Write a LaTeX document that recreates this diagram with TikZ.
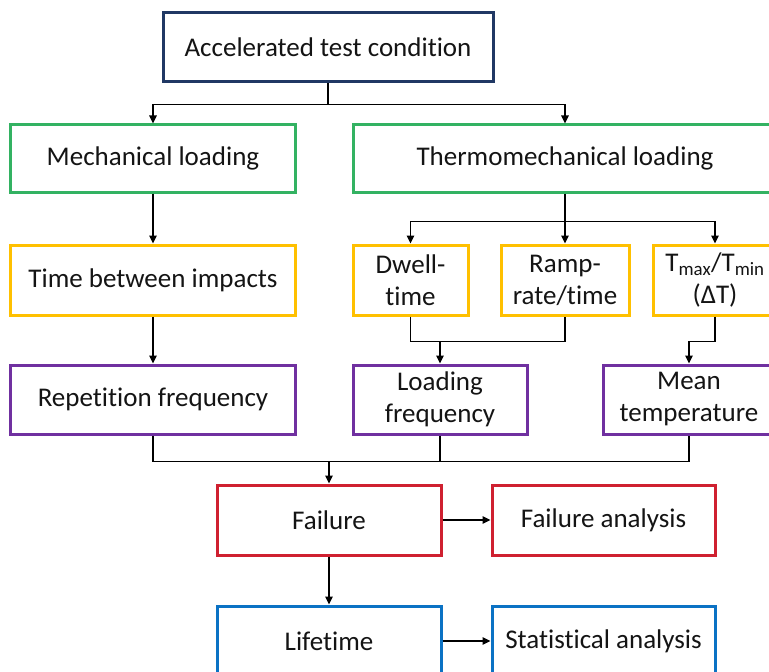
\documentclass[tikz,border=0pt]{standalone}
\usepackage{fontspec}
\setmainfont{Carlito}[Ligatures=NoCommon]
\usetikzlibrary{arrows.meta}

\definecolor{cnavy}{HTML}{203864}
\definecolor{cgreen}{HTML}{33B262}
\definecolor{cgold}{HTML}{FFC000}
\definecolor{cpurple}{HTML}{7030A0}
\definecolor{cred}{HTML}{CF2030}
\definecolor{cblue}{HTML}{0B72C4}

\tikzset{
  box/.style={draw=#1, line width=3bp, fill=white, inner sep=0pt, align=center,
    font=\fontsize{27bp}{32bp}\selectfont, text=black!92},
  link/.style={line width=1.6bp, draw=black},
  arr/.style={link, -{Triangle[length=8bp,width=7.5bp]}},
}

% place a box by its corners (x1,y1)-(x2,y2), y measured downward
\newcommand{\cornerbox}[7]{%
  \pgfmathsetmacro{\bw}{#5-#3}%
  \pgfmathsetmacro{\bh}{#6-#4}%
  \pgfmathsetmacro{\bx}{(#3+#5)/2}%
  \pgfmathsetmacro{\by}{(#4+#6)/2}%
  \node[box=#2, minimum width=\bw bp, minimum height=\bh bp]
    (#1) at (\bx,\by) {#7};}

\begin{document}
\begin{tikzpicture}[x=1bp, y=-1bp]
  \useasboundingbox (0,0) rectangle (769,672);
  \clip (0,0) rectangle (769,672);

  % boxes
  \cornerbox{top}{cnavy}{163}{13}{493}{82}{Accelerated test condition}
  \cornerbox{mech}{cgreen}{11}{125}{295}{192}{Mechanical loading}
  \cornerbox{thermo}{cgreen}{353}{125}{777}{192}{Thermomechanical loading}
  \cornerbox{tbi}{cgold}{11}{245}{295}{315}{Time between impacts}
  \cornerbox{dwell}{cgold}{353}{245}{468}{315}{Dwell-\\time}
  \cornerbox{ramp}{cgold}{501}{245}{629}{315}{Ramp-\\rate/time}
  \cornerbox{tmax}{cgold}{653}{245}{777}{315}{T\textsubscript{max}/T\textsubscript{min}\\(ΔT)}
  \cornerbox{rep}{cpurple}{11}{365}{295}{434}{Repetition frequency}
  \cornerbox{load}{cpurple}{353}{365}{527}{434}{Loading\\frequency}
  \cornerbox{mean}{cpurple}{603}{365}{775}{434}{Mean\\temperature}
  \cornerbox{fail}{cred}{217}{485}{441}{555}{Failure}
  \cornerbox{fana}{cred}{492}{485}{715}{555}{Failure analysis}
  \cornerbox{life}{cblue}{217}{606}{441}{676}{Lifetime}
  \cornerbox{stat}{cblue}{492}{606}{715}{676}{Statistical analysis}

  % junction points
  \coordinate (j1) at ([yshift=-21bp]top.south);
  \coordinate (j2) at ([yshift=-28bp]thermo.south);
  \coordinate (j3) at ([yshift=-25bp]load.north |- dwell.south);
  \coordinate (j5) at ([yshift=-26bp]fail.north |- rep.south);

  % top split
  \draw[link] (top.south) -- (j1);
  \draw[arr] (j1) -| (mech.north);
  \draw[arr] (j1) -| (thermo.north);

  % mechanical branch
  \draw[arr] (mech.south) -- (tbi.north);
  \draw[arr] (tbi.south) -- (rep.north);

  % thermomechanical branch
  \draw[link] (thermo.south) -- (j2);
  \draw[arr] (j2) -| (dwell.north);
  \draw[arr] (j2) -- (ramp.north);
  \draw[arr] (j2) -| (tmax.north);

  \draw[link] (dwell.south) -- (dwell.south |- j3) -- (ramp.south |- j3) -- (ramp.south);
  \draw[arr] (j3) -- (load.north);
  \draw[arr] (tmax.south) -- (tmax.south |- j3) -| (mean.north);

  % merge into failure
  \draw[link] (rep.south) -- (rep.south |- j5) -- (mean.south |- j5) -- (mean.south);
  \draw[link] (load.south) -- (load.south |- j5);
  \draw[arr] (j5) -- (fail.north);

  % outcomes
  \draw[arr] (fail.east) -- (fana.west);
  \draw[arr] (fail.south) -- (life.north);
  \draw[arr] (life.east) -- (stat.west);
\end{tikzpicture}
\end{document}
